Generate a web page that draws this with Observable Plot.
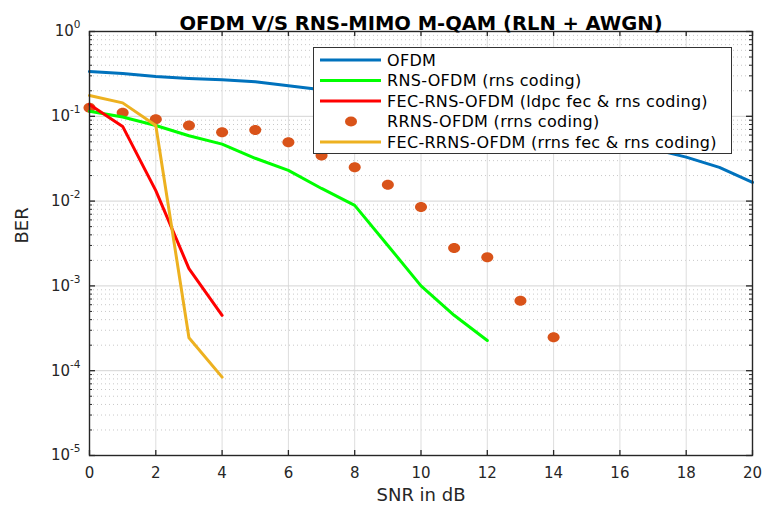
<!DOCTYPE html>
<html><head><meta charset="utf-8">
<script src="https://cdn.jsdelivr.net/npm/d3@7"></script>
<script src="https://cdn.jsdelivr.net/npm/@observablehq/plot@0.6"></script>
<style>
body{margin:0;background:#fff;}
#wrap{position:relative;width:763px;height:508px;font-family:"DejaVu Sans",sans-serif;}
#legend{position:absolute;left:313px;top:47px;width:419px;height:107px;background:#fff;border:1px solid #333;box-sizing:border-box;}
</style></head><body><div id="wrap"></div>
<script>
// ---- data ----
const title = "OFDM V/S RNS-MIMO M-QAM (RLN + AWGN)";
const xLabel = "SNR in dB";
const yLabel = "BER";
const seriesNames = [
  "OFDM",
  "RNS-OFDM (rns coding)",
  "FEC-RNS-OFDM (ldpc fec & rns coding)",
  "RRNS-OFDM (rrns coding)",
  "FEC-RRNS-OFDM (rrns fec & rns coding)"
];
const seriesColors = ["#0072BD", "#00FF00", "#FF0000", "#D95319", "#EDB120"];
const seriesKinds = ["line", "line", "line", "dot", "line"];

const ofdmSnr = [0,1,2,3,4,5,6,7,8,9,10,11,12,13,14,15,16,17,18,19,20];
const ofdmBer = [0.337,0.32,0.295,0.28,0.27,0.255,0.229,0.205,0.185,0.165,0.145,0.125,0.105,0.088,0.073,0.06,0.05,0.041,0.033,0.025,0.0166];

const rnsSnr = [0,1,2,3,4,5,6,7,8,9,10,11,12];
const rnsBer = [0.115,0.098,0.078,0.059,0.047,0.032,0.023,0.0141,0.0089,0.003,0.001,0.00045,0.000227];

const fecRnsSnr = [0,1,2,3,4];
const fecRnsBer = [0.138,0.076,0.0133,0.0016,0.00045];

const rrnsSnr = [0,1,2,3,4,5,6,7,8,9,10,11,12,13,14];
const rrnsBer = [0.126,0.11,0.092,0.078,0.065,0.069,0.0495,0.0345,0.025,0.0156,0.0085,0.00280,0.00218,0.00067,0.000248];

const fecRrnsSnr = [0,1,2,3,4];
const fecRrnsBer = [0.176,0.144,0.078,0.000245,0.000084];

const xTicks = [0,2,4,6,8,10,12,14,16,18,20];
const yDecades = [1e-5,1e-4,1e-3,1e-2,1e-1,1];
const yMinor = [];
for (let e = -5; e < 0; e++) for (let m = 2; m <= 9; m++) yMinor.push(m * Math.pow(10, e));

// ---- layout ----
const width = 763, height = 508;
const mt = 31, ml = 89, mr = 11, mb = 53;
const W = width - ml - mr, H = height - mt - mb;
const axisColor = "#262626";
const font = "DejaVu Sans, sans-serif";

const toRows = (xs, ys) => xs.map((x, i) => ({x, y: ys[i]}));
const lineSets = [
  toRows(ofdmSnr, ofdmBer),
  toRows(rnsSnr, rnsBer),
  toRows(fecRnsSnr, fecRnsBer),
  toRows(rrnsSnr, rrnsBer),
  toRows(fecRrnsSnr, fecRrnsBer)
];

const ellipse = {draw(ctx) {
  const rx = 6, ry = 5, k = 0.5523;
  ctx.moveTo(rx, 0);
  ctx.bezierCurveTo(rx, k*ry, k*rx, ry, 0, ry);
  ctx.bezierCurveTo(-k*rx, ry, -rx, k*ry, -rx, 0);
  ctx.bezierCurveTo(-rx, -k*ry, -k*rx, -ry, 0, -ry);
  ctx.bezierCurveTo(k*rx, -ry, rx, -k*ry, rx, 0);
  ctx.closePath();
}};

const dataMarks = [];
lineSets.forEach((rows, i) => {
  if (seriesKinds[i] === "line") {
    dataMarks.push(Plot.line(rows, {x: "x", y: "y", stroke: seriesColors[i], strokeWidth: 3, strokeLinejoin: "round"}));
  } else {
    dataMarks.push(Plot.dot(rows, {x: "x", y: "y", fill: seriesColors[i], stroke: "none", symbol: ellipse, r: 5}));
  }
});
const ordered = [dataMarks[0], dataMarks[3], dataMarks[1], dataMarks[2], dataMarks[4]];

const svg = Plot.plot({
  width, height,
  marginTop: mt, marginLeft: ml, marginRight: mr, marginBottom: mb,
  style: {fontFamily: font, background: "#fff", color: axisColor},
  x: {domain: [0, 20]},
  y: {type: "log", domain: [1e-5, 1]},
  marks: [
    Plot.ruleY(yMinor, {y: d => d, stroke: "#c8c8c8", strokeDasharray: "1,3", strokeWidth: 1}),
    Plot.ruleX(xTicks, {x: d => d, stroke: "#dddddd", strokeWidth: 1}),
    Plot.ruleY(yDecades, {y: d => d, stroke: "#d4d4d4", strokeWidth: 1}),
    ...ordered,
    Plot.frame({stroke: axisColor, strokeWidth: 1.4}),
    Plot.tickX(xTicks, {x: d => d, insetTop: H - 5, stroke: axisColor, strokeWidth: 1.3}),
    Plot.tickX(xTicks, {x: d => d, insetBottom: H - 5, stroke: axisColor, strokeWidth: 1.3}),
    Plot.tickY(yDecades, {y: d => d, insetRight: W - 6, stroke: axisColor, strokeWidth: 1.3}),
    Plot.tickY(yDecades, {y: d => d, insetLeft: W - 6, stroke: axisColor, strokeWidth: 1.3}),
    Plot.tickY(yMinor, {y: d => d, insetRight: W - 3, stroke: axisColor, strokeWidth: 1}),
    Plot.tickY(yMinor, {y: d => d, insetLeft: W - 3, stroke: axisColor, strokeWidth: 1}),
    Plot.axisX(xTicks, {tickSize: 0, tickPadding: 12, fontSize: 15, label: null, fill: axisColor}),
    Plot.axisY(yDecades, {tickSize: 0, tickPadding: 9, fontSize: 15, label: null, fill: axisColor,
      tickFormat: d => "10^" + Math.round(Math.log10(d))}),
    Plot.text([xLabel], {frameAnchor: "bottom", dy: 45, fontSize: 18, letterSpacing: 1.2, fill: axisColor}),
    Plot.text([yLabel], {frameAnchor: "left", dx: -67, rotate: -90, fontSize: 18, fill: axisColor}),
    Plot.text([title], {frameAnchor: "top", dy: -15, fontSize: 19.5, fontWeight: "bold", fill: "#000"})
  ]
});

d3.select(svg).selectAll('g[aria-label="y-axis tick label"] text').each(function() {
  const t = d3.select(this);
  const s = t.text();
  const e = s.split("^")[1];
  t.text(null);
  t.append("tspan").text("10");
  t.append("tspan").attr("dy", "-8").attr("font-size", "10.5").text(e);
});

const wrap = document.getElementById("wrap");
wrap.appendChild(svg);

// legend
const leg = document.createElement("div");
leg.id = "legend";
wrap.appendChild(leg);
const lsvg = d3.select(leg).append("svg").attr("width", 417).attr("height", 105)
  .style("position", "absolute").style("left", "0").style("top", "0");
seriesNames.forEach((name, i) => {
  const cy = 12 + i * 20.5;
  if (seriesKinds[i] === "line") {
    lsvg.append("line").attr("x1", 6).attr("x2", 67).attr("y1", cy).attr("y2", cy)
      .attr("stroke", seriesColors[i]).attr("stroke-width", 3);
  } else {
    lsvg.append("ellipse").attr("cx", 37).attr("cy", cy).attr("rx", 6).attr("ry", 5)
      .attr("fill", seriesColors[i]);
  }
  lsvg.append("text").attr("x", 73).attr("y", cy).attr("dy", "0.36em")
    .attr("font-family", font).attr("font-size", 16).attr("letter-spacing", 0.3)
    .attr("fill", "#000").text(name);
});
</script>
</body></html>
